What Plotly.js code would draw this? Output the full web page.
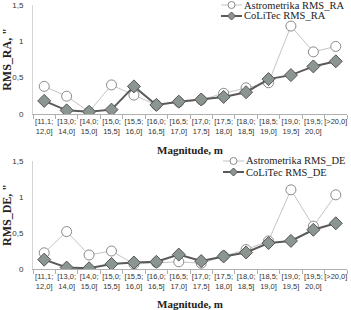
<!DOCTYPE html>
<html><head><meta charset="utf-8">
<script src="https://cdn.plot.ly/plotly-3.0.1.min.js"></script>
<style>html,body{margin:0;padding:0;background:#fff}#c{width:351px;height:310px}</style>
</head><body><div id="c"></div>
<script>
const categories = ["[11,1;<br>12,0]","[13,0;<br>14,0]","[14,0;<br>15,0]","[15,0;<br>15,5]","[15,5;<br>16,0]","[16,0;<br>16,5]","[16,5;<br>17,0]","[17,0;<br>17,5]","[17,5;<br>18,0]","[18,0;<br>18,5]","[18,5;<br>19,0]","[19,0;<br>19,5]","[19,5;<br>20,0]","[>20,0]"];
const astroRA = [0.38,0.245,0.03,0.40,0.26,0.125,0.165,0.195,0.285,0.36,0.43,1.21,0.855,0.93];
const colitecRA = [0.18,0.05,0.03,0.06,0.38,0.125,0.17,0.20,0.235,0.30,0.48,0.535,0.655,0.725];
const astroDE = [0.225,0.52,0.195,0.25,0.07,0.09,0.10,0.08,0.18,0.27,0.39,1.10,0.595,1.03];
const colitecDE = [0.13,0.02,0.01,0.07,0.09,0.10,0.20,0.11,0.175,0.23,0.36,0.39,0.545,0.635];
const seriesNames = ['Astrometrika RMS_RA','CoLiTec RMS_RA','Astrometrika RMS_DE','CoLiTec RMS_DE'];

const W = 351, H = 310, M = {l:33, r:4, t:5, b:41};
const PW = W - M.l - M.r, PH = H - M.t - M.b;
const px2x = p => (p - M.l) / PW;
const px2y = p => (H - M.b - p) / PH;

const serif = "Liberation Serif, Times New Roman, serif";
const sans = "Liberation Sans, Arial, sans-serif";
const astroLine = '#c4c4c4', astroEdge = '#8a8a8a';
const colLine = '#5a5a5a', colFill = '#8c9690', colEdge = '#555';
const astroStyle = {mode:'lines+markers', line:{color:astroLine, width:1},
  marker:{symbol:'circle', size:10, color:'#ffffff', line:{color:astroEdge, width:1}}};
const colStyle = {mode:'lines+markers', line:{color:colLine, width:2},
  marker:{symbol:'diamond', size:10, color:colFill, line:{color:colEdge, width:1}}};

const data = [
  Object.assign({x:categories, y:astroRA, name:seriesNames[0], xaxis:'x', yaxis:'y'}, astroStyle),
  Object.assign({x:categories, y:colitecRA, name:seriesNames[1], xaxis:'x', yaxis:'y'}, colStyle),
  Object.assign({x:categories, y:astroDE, name:seriesNames[2], xaxis:'x2', yaxis:'y2'}, astroStyle),
  Object.assign({x:categories, y:colitecDE, name:seriesNames[3], xaxis:'x2', yaxis:'y2'}, colStyle)
];

function xa(anchor){ return {anchor:anchor, type:'category', range:[-0.5,13.5], showgrid:false,
  showline:true, linecolor:'#b0b0b0', linewidth:1, ticks:'outside', tickson:'boundaries', ticklen:4, tickcolor:'#b0b0b0',
  tickangle:0, tickfont:{family:sans, size:7.5, color:'#333'},
  title:{text:'<b>Magnitude, m</b>', font:{family:serif, size:11, color:'#222'}, standoff:11}}; }
function ya(anchor, dom, t){ return {anchor:anchor, domain:dom, range:[0,1.5], tickvals:[0,0.5,1,1.5],
  showgrid:false, zeroline:false, showline:true, linecolor:'#d4d4d4', linewidth:1, ticks:'',
  tickfont:{family:sans, size:8, color:'#333'}, ticklabelstandoff:7,
  title:{text:'<b>'+t+'</b>', font:{family:serif, size:12, color:'#222'}, standoff:3}}; }

// hand-built legend (symbol line + marker + label) for each series
const legendRows = [
  {name:seriesNames[0], kind:'astro', x0:221, x1:242, tx:243, y:5},
  {name:seriesNames[1], kind:'col',   x0:221, x1:242, tx:243, y:16},
  {name:seriesNames[2], kind:'astro', x0:223, x1:244, tx:245, y:161},
  {name:seriesNames[3], kind:'col',   x0:223, x1:244, tx:245, y:172}
];
const shapes = [], annotations = [];
legendRows.forEach(r => {
  const yy = px2y(r.y), xm = px2x((r.x0 + r.x1) / 2);
  const a = r.kind === 'astro';
  shapes.push({type:'line', xref:'paper', yref:'paper', x0:px2x(r.x0), x1:px2x(r.x1), y0:yy, y1:yy,
    line:{color: a ? astroLine : colLine, width: a ? 1 : 2}});
  if (a) {
    shapes.push({type:'circle', xref:'paper', yref:'paper', xsizemode:'pixel', ysizemode:'pixel',
      xanchor:xm, yanchor:yy, x0:-3.5, x1:3.5, y0:-3.5, y1:3.5, fillcolor:'#fff', line:{color:astroEdge, width:1}});
  } else {
    shapes.push({type:'path', xref:'paper', yref:'paper', xsizemode:'pixel', ysizemode:'pixel',
      xanchor:xm, yanchor:yy, path:'M -4 0 L 0 4 L 4 0 L 0 -4 Z', fillcolor:colFill, line:{color:colEdge, width:1}});
  }
  annotations.push({xref:'paper', yref:'paper', x:px2x(r.tx), y:yy, xanchor:'left', yanchor:'middle',
    showarrow:false, text:r.name, font:{family:serif, size:10.5, color:'#222'}, borderpad:0});
});

const layout = {
  width:W, height:H, margin:{l:M.l, r:M.r, t:M.t, b:M.b, autoexpand:false},
  paper_bgcolor:'#fff', plot_bgcolor:'#fff', separators:', ',
  xaxis: xa('y'), yaxis: ya('x',[px2y(114),1],'RMS_RA, "'),
  xaxis2: xa('y2'), yaxis2: ya('x2',[0,px2y(161)],'RMS_DE, "'),
  showlegend:false, shapes:shapes, annotations:annotations
};
Plotly.newPlot('c', data, layout, {displayModeBar:false, staticPlot:true});
</script></body></html>
